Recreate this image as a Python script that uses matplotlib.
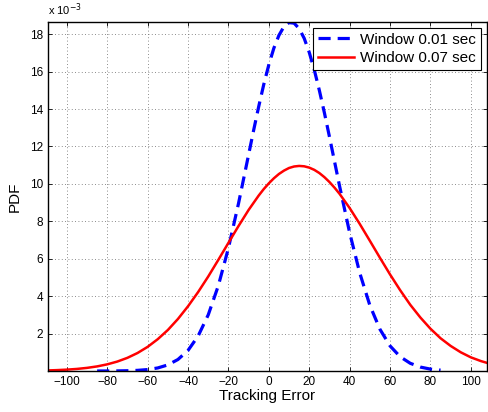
import numpy as np
import matplotlib
matplotlib.use('Agg')
import matplotlib.pyplot as plt

plt.rcParams['font.family'] = ['Liberation Sans', 'DejaVu Sans']

# ---- data (PDF values in units of 1e-3) ----
x_short = [-85, -80, -75, -70, -65, -60, -55, -50, -45, -40, -35, -30, -25, -20,
           -15, -10, -7.5, -5, -2.5, 0, 2.5, 5, 7.5, 10, 12.5, 15, 17.5, 20,
           22.5, 25, 27.5, 30, 35, 40, 45, 50, 55, 60, 65, 70, 75, 80, 85]
pdf_short = [0.001, 0.002, 0.006, 0.015, 0.035, 0.077, 0.163, 0.325, 0.615, 1.10,
             1.87, 3.00, 4.56, 6.57, 8.96, 11.57, 12.88, 14.14, 15.32, 16.37,
             17.26, 17.94, 18.41, 18.62, 18.59, 18.30, 17.78, 17.03, 16.09,
             15.00, 13.80, 12.52, 9.89, 7.39, 5.24, 3.51, 2.23, 1.34,
             0.763, 0.412, 0.210, 0.101, 0.046]

x_long = [-110, -105, -100, -95, -90, -85, -80, -75, -70, -65, -60, -55, -50, -45,
          -40, -35, -30, -25, -20, -15, -10, -5, -2.5, 0, 2.5, 5, 7.5, 10, 12.5,
          15, 17.5, 20, 22.5, 25, 27.5, 30, 32.5, 35, 40, 45, 50, 55, 60, 65,
          70, 75, 80, 85, 90, 95, 100, 105, 110]
pdf_long = [0.029, 0.047, 0.073, 0.111, 0.167, 0.246, 0.356, 0.505, 0.704, 0.962,
            1.29, 1.70, 2.19, 2.78, 3.46, 4.22, 5.05, 5.94, 6.85, 7.75, 8.61,
            9.38, 9.725, 10.03, 10.30, 10.53, 10.71, 10.85, 10.93, 10.96, 10.94,
            10.87, 10.75, 10.58, 10.36, 10.10, 9.80, 9.47, 8.71,
            7.86, 6.96, 6.05, 5.16, 4.32, 3.54, 2.86, 2.26, 1.75, 1.34, 1.00,
            0.73, 0.53, 0.37]

labels = ['Window 0.01 sec', 'Window 0.07 sec']
x_ticks = [-100, -80, -60, -40, -20, 0, 20, 40, 60, 80, 100]
y_ticks = [2, 4, 6, 8, 10, 12, 14, 16, 18]

fig = plt.figure(figsize=(4.88, 4.12), dpi=100)
ax = fig.add_axes([0.098, 0.0995, 0.9, 0.847])

ax.plot(x_short, pdf_short, color='#0000ff', linestyle=(0, (3.8, 2.2)),
        linewidth=2.3, label=labels[0])
ax.plot(x_long, pdf_long, color='#ff0000', linestyle='-', linewidth=1.8,
        label=labels[1])

ax.set_xlim(-109.4, 108)
ax.set_ylim(0, 18.65)
ax.set_xticks(x_ticks)
ax.set_yticks(y_ticks)
ax.tick_params(direction='in', top=True, right=True, labelsize=8.5,
               length=3, width=0.6)
for s in ax.spines.values():
    s.set_linewidth(1.0)
ax.grid(True, color='#666666', linestyle=(0, (1, 3)), linewidth=0.6)

ax.set_xlabel('Tracking Error', fontsize=11, labelpad=1)
ax.set_ylabel('PDF', fontsize=11, labelpad=6)
ax.text(0.0, 1.012, r'x 10$^{-3}$', transform=ax.transAxes, fontsize=8,
        ha='left', va='bottom')

leg = ax.legend(loc='upper right', fontsize=11, fancybox=False,
                framealpha=1, edgecolor='black', handlelength=2.4,
                borderaxespad=0.4, borderpad=0.3, labelspacing=0.3,
                handletextpad=0.4)
leg.get_frame().set_linewidth(0.8)

plt.savefig('out.png', dpi=100)
